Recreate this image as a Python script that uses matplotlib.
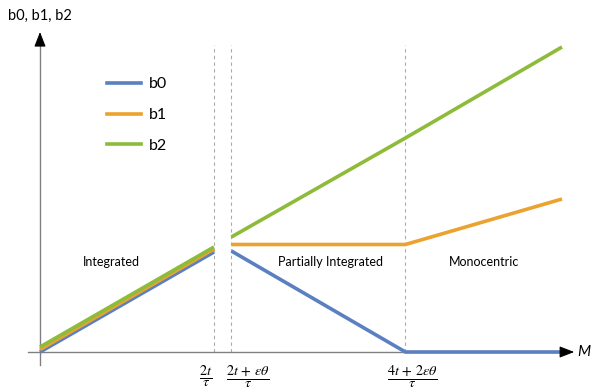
import matplotlib
matplotlib.use("Agg")
import matplotlib.pyplot as plt
from matplotlib.lines import Line2D

# schematic units: 2t/tau = 1
x_left = [0.0, 1.0]
x_right = [1.1, 2.1, 3.0]
b0_left = [0.0, 1.0]
b0_right = [1.01, 0.0, 0.0]
b1_left = [0.025, 1.03]
b1_right = [1.075, 1.075, 1.53]
b2_left = [0.05, 1.05]
b2_right = [1.15, 2.14, 3.05]

breaks = [1.0, 1.1, 2.1]
break_labels = [r"$\dfrac{2t}{\tau}$",
                r"$\dfrac{2t\,+\,\varepsilon\theta}{\tau}$",
                r"$\dfrac{4t\,+\,2\varepsilon\theta}{\tau}$"]
label_x = [0.955, 1.195, 2.14]
regions = ["Integrated", "Partially Integrated", "Monocentric"]
region_x = [0.41, 1.67, 2.55]

C_B0 = "#5B80C1"
C_B1 = "#EBA22F"
C_B2 = "#8DBB3A"
C_AX = "#808080"

plt.rcParams["font.family"] = ["Lato", "DejaVu Sans"]
plt.rcParams["mathtext.fontset"] = "stix"

fig = plt.figure(figsize=(5.91, 3.89), dpi=100)
ax = fig.add_axes([0, 0, 1, 1])
# 174 px per x unit, 100 px per y unit, origin at pixel (40, 352)
ax.set_xlim(-40 / 174, 551 / 174)
ax.set_ylim(-37 / 100, 352 / 100)
ax.set_axis_off()

# axes with arrow heads
ax.plot([-0.07, 3.0], [0, 0], color=C_AX, lw=1.0, zorder=1)
ax.plot([0, 0], [-0.13, 3.1], color=C_AX, lw=1.0, zorder=1)
ah = dict(arrowstyle="-|>,head_length=0.9,head_width=0.35", color="black",
          lw=0.8, shrinkA=0, shrinkB=0)
ax.annotate("", xy=(3.07, 0), xytext=(3.0, 0), arrowprops=ah, zorder=4)
ax.annotate("", xy=(0, 3.2), xytext=(0, 3.08), arrowprops=ah, zorder=4)
ax.text(3.09, 0.0, "M", fontsize=11, style="italic", ha="left",
        va="center")
ax.text(0.0, 3.36, "b0, b1, b2", fontsize=10.5, ha="center", va="center")

for xb in breaks:
    ax.plot([xb, xb], [0, 3.07], color="#AAAAAA", lw=0.8,
            ls=(0, (3, 3)), zorder=0)
for xl, lab in zip(label_x, break_labels):
    ax.text(xl, -0.245, lab, fontsize=10.3, ha="center", va="center")

for xr, lab in zip(region_x, regions):
    ax.text(xr, 0.9, lab, fontsize=9, ha="center", va="center")

for yl, yr, c in ((b0_left, b0_right, C_B0), (b1_left, b1_right, C_B1),
                  (b2_left, b2_right, C_B2)):
    ax.plot(x_left, yl, color=c, lw=2.6, solid_capstyle="butt", zorder=3)
    ax.plot(x_right, yr, color=c, lw=2.6, solid_capstyle="butt", zorder=3)

handles = [Line2D([], [], color=c, lw=2.6) for c in (C_B0, C_B1, C_B2)]
ax.legend(handles, ["b0", "b1", "b2"], loc="upper left",
          bbox_to_anchor=(107 / 591, 1 - 77 / 389),
          bbox_transform=fig.transFigure, frameon=False, fontsize=11.5,
          handlelength=2.1, handletextpad=0.5, labelspacing=1.05,
          borderpad=0, borderaxespad=0)

fig.savefig("out.png", dpi=100)
